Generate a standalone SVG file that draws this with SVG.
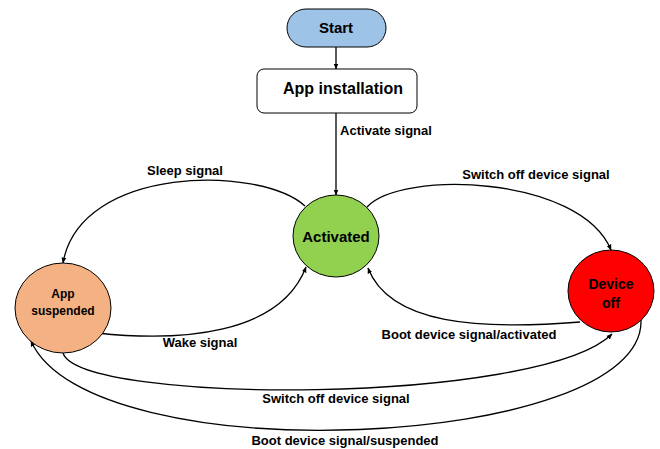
<svg xmlns="http://www.w3.org/2000/svg" width="660" height="449" viewBox="0 0 660 449">
<style>
text{font-family:"Liberation Sans",Arial,sans-serif;font-weight:bold;fill:#000;text-anchor:middle}
.lbl{font-size:13px}
.node{stroke:#000;stroke-width:1}
.edge{fill:none;stroke:#000;stroke-width:1.3;marker-end:url(#ah)}
</style>
<defs>
<marker id="ah" viewBox="0 0 10 10" refX="9" refY="5" markerWidth="6" markerHeight="6" markerUnits="userSpaceOnUse" orient="auto">
<path d="M0,1 L10,5 L0,9 z" fill="#000"/>
</marker>
</defs>
<g id="connectors">
<path class="edge" d="M336,47 L336,69"/>
<path class="edge" d="M336,113 L336,195"/>
<path class="edge" d="M305,206 C260,165 80,165 63,263"/>
<path class="edge" d="M97,333 C180,342 280,335 306,267"/>
<path class="edge" d="M367,207 C400,170 580,175 611,250"/>
<path class="edge" d="M580,322 C480,330 390,325 368,268"/>
<path class="edge" d="M63,353 C80,405 540,405 612,334"/>
<path class="edge" d="M641,320 C645,450 90,475 31,341"/>
<text class="lbl" x="386" y="135">Activate signal</text>
<text class="lbl" x="185" y="175">Sleep signal</text>
<text class="lbl" x="536" y="179">Switch off device signal</text>
<text class="lbl" x="200" y="347">Wake signal</text>
<text class="lbl" x="469" y="339">Boot device signal/activated</text>
<text class="lbl" x="336" y="403">Switch off device signal</text>
<text class="lbl" x="345" y="445">Boot device signal/suspended</text>
</g>
<g id="start">
<rect class="node" x="287" y="9" width="99" height="38" rx="19" fill="#9dc3e6"/>
<text x="336" y="33" font-size="15">Start</text>
</g>
<g id="install">
<rect class="node" x="257" y="69" width="160" height="44" rx="7" fill="#fff"/>
<text x="343" y="94" font-size="16">App installation</text>
</g>
<g id="activated">
<ellipse class="node" cx="336" cy="236" rx="43" ry="41" fill="#92d050"/>
<text x="336" y="242" font-size="15">Activated</text>
</g>
<g id="suspended">
<ellipse class="node" cx="63" cy="308" rx="48" ry="45" fill="#f4b183"/>
<text x="63" y="298" font-size="12">App</text>
<text x="63" y="315" font-size="12">suspended</text>
</g>
<g id="deviceoff">
<ellipse class="node" cx="611" cy="291" rx="43" ry="41" fill="#ff0000"/>
<text x="611" y="289" font-size="14">Device</text>
<text x="611" y="308" font-size="14">off</text>
</g>
</svg>
